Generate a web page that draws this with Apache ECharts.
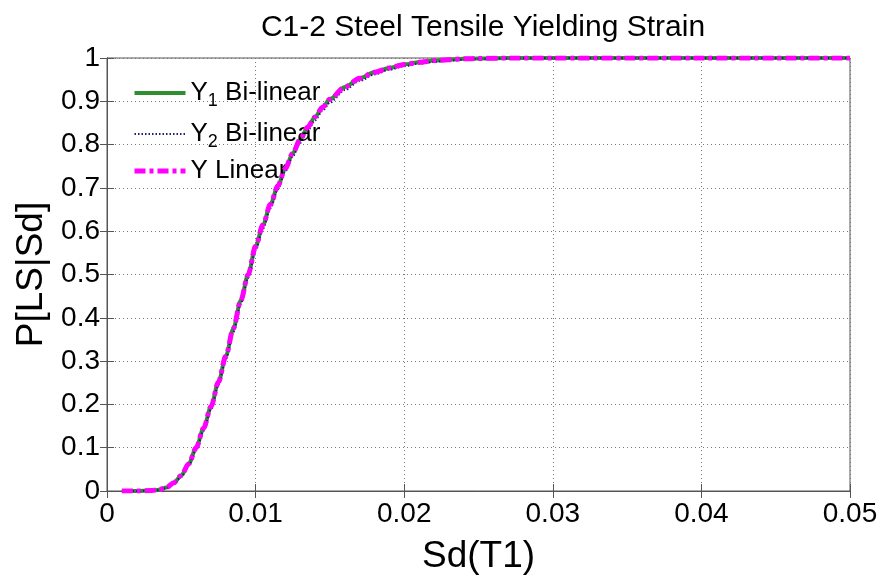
<!DOCTYPE html>
<html>
<head>
<meta charset="utf-8">
<script src="https://cdn.jsdelivr.net/npm/echarts@6/dist/echarts.min.js"></script>
<style>html,body{margin:0;padding:0;background:#fff}#c{width:887px;height:576px}</style>
</head>
<body>
<div id="c"></div>
<script>
var sd = [0.001,0.002,0.003,0.0035,0.004,0.0045,0.005,0.0055,0.006,0.0065,0.007,0.0075,0.008,0.0085,0.009,0.0095,0.010,0.0105,0.011,0.0115,0.012,0.0125,0.013,0.0135,0.014,0.0145,0.015,0.016,0.017,0.018,0.019,0.020,0.021,0.022,0.023,0.024,0.025,0.027,0.030,0.035,0.040,0.045,0.050];
var y1Bilinear = [0,0,0.001,0.003,0.008,0.019,0.036,0.063,0.100,0.145,0.195,0.252,0.312,0.375,0.440,0.500,0.565,0.615,0.662,0.705,0.745,0.780,0.812,0.840,0.864,0.886,0.905,0.933,0.953,0.967,0.977,0.985,0.990,0.994,0.996,0.998,0.999,1,1,1,1,1,1];
var y2Bilinear = [0,0,0.001,0.002,0.007,0.017,0.033,0.059,0.095,0.139,0.188,0.245,0.305,0.367,0.432,0.492,0.556,0.606,0.653,0.697,0.738,0.773,0.804,0.832,0.856,0.878,0.897,0.926,0.947,0.962,0.973,0.981,0.987,0.991,0.994,0.996,0.998,0.999,1,1,1,1,1];
var yLinear = [0,0,0.001,0.003,0.008,0.019,0.036,0.063,0.100,0.145,0.195,0.252,0.312,0.375,0.440,0.500,0.565,0.615,0.662,0.705,0.745,0.780,0.812,0.840,0.864,0.886,0.905,0.933,0.953,0.967,0.977,0.985,0.990,0.994,0.996,0.998,0.999,1,1,1,1,1,1];
var xTicks = [0,0.01,0.02,0.03,0.04,0.05];
var seriesNames = ['Y1 Bi-linear','Y2 Bi-linear','Y Linear'];

function pairs(ys){ return sd.map(function(x,i){ return [x, ys[i]]; }); }

var chart = echarts.init(document.getElementById('c'));
var font = 'Liberation Sans, Arial, sans-serif';
var axisCol = '#555';
var styles = [
  {color:'#2f8f2f', width:4, type:'solid'},
  {color:'#1c1c80', width:2, type:[1.5,2]},
  {color:'#ff00ff', width:5, type:[11,4,4,4]}
];
chart.setOption({
  animation:false,
  backgroundColor:'#fff',
  title:{text:'C1-2 Steel Tensile Yielding Strain', left:478, top:8, textAlign:'center',
    textStyle:{fontFamily:font, fontSize:30, fontWeight:'normal', color:'#000'}},
  grid:{left:107, right:37, top:58, bottom:85, show:true, borderColor:axisCol, borderWidth:1,
    backgroundColor:'transparent', containLabel:false, outerBoundsMode:'none'},
  legend:{
    orient:'vertical', left:127, top:71, itemWidth:51, itemHeight:12, itemGap:7,
    itemStyle:{opacity:0},
    data:seriesNames.map(function(n,i){ return {name:n, itemStyle:{opacity:0}, lineStyle:styles[i]}; }),
    formatter:function(n){
      if(n==='Y1 Bi-linear') return '{a|Y}{s|1}{a| Bi-linear}';
      if(n==='Y2 Bi-linear') return '{a|Y}{s|2}{a| Bi-linear}';
      return '{a|Y Linear}';
    },
    textStyle:{fontFamily:font, color:'#000', padding:[0,0,0,0],
      rich:{a:{fontFamily:font, fontSize:26, color:'#000', lineHeight:28},
            s:{fontFamily:font, fontSize:18, color:'#000', lineHeight:28, padding:[16,0,0,0]}}}
  },
  xAxis:[{
    type:'value', min:0, max:0.05, interval:0.01, position:'bottom',
    name:'Sd(T1)', nameLocation:'middle', nameGap:47,
    nameTextStyle:{fontFamily:font, fontSize:37, color:'#000'},
    axisLine:{show:true, lineStyle:{color:axisCol}},
    axisTick:{show:true, inside:true, length:7, lineStyle:{color:axisCol}},
    axisLabel:{fontFamily:font, fontSize:28, color:'#000', margin:9,
      formatter:function(v){ return v===0 ? '0' : String(Number(v.toFixed(3))); }},
    splitLine:{show:true, lineStyle:{color:'#777', type:[1,3], width:1}}
  },{
    type:'value', min:0, max:0.05, interval:0.01, position:'top',
    axisLine:{show:true, lineStyle:{color:axisCol}},
    axisTick:{show:true, inside:true, length:7, lineStyle:{color:axisCol}},
    axisLabel:{show:false}, splitLine:{show:false}
  }],
  yAxis:[{
    type:'value', min:0, max:1, interval:0.1, position:'left',
    name:'P[LS|Sd]', nameLocation:'middle', nameGap:57, nameRotate:90,
    nameTextStyle:{fontFamily:font, fontSize:37, color:'#000'},
    axisLine:{show:true, lineStyle:{color:axisCol}},
    axisTick:{show:true, inside:true, length:7, lineStyle:{color:axisCol}},
    axisLabel:{fontFamily:font, fontSize:28, color:'#000', margin:7,
      formatter:function(v){ return String(Number(v.toFixed(1))); }},
    splitLine:{show:true, lineStyle:{color:'#777', type:[1,3], width:1}}
  },{
    type:'value', min:0, max:1, interval:0.1, position:'right',
    axisLine:{show:true, lineStyle:{color:axisCol}},
    axisTick:{show:true, inside:true, length:7, lineStyle:{color:axisCol}},
    axisLabel:{show:false}, splitLine:{show:false}
  }],
  series:[
    {name:seriesNames[0], type:'line', data:pairs(y1Bilinear), showSymbol:false, symbol:'none',
     smooth:0.3, smoothMonotone:'x', color:styles[0].color, lineStyle:styles[0], z:2},
    {name:seriesNames[1], type:'line', data:pairs(y2Bilinear), showSymbol:false, symbol:'none',
     smooth:0.3, smoothMonotone:'x', color:styles[1].color, lineStyle:styles[1], z:3},
    {name:seriesNames[2], type:'line', data:pairs(yLinear), showSymbol:false, symbol:'none',
     smooth:0.3, smoothMonotone:'x', color:styles[2].color, lineStyle:styles[2], z:4}
  ]
});
</script>
</body>
</html>
